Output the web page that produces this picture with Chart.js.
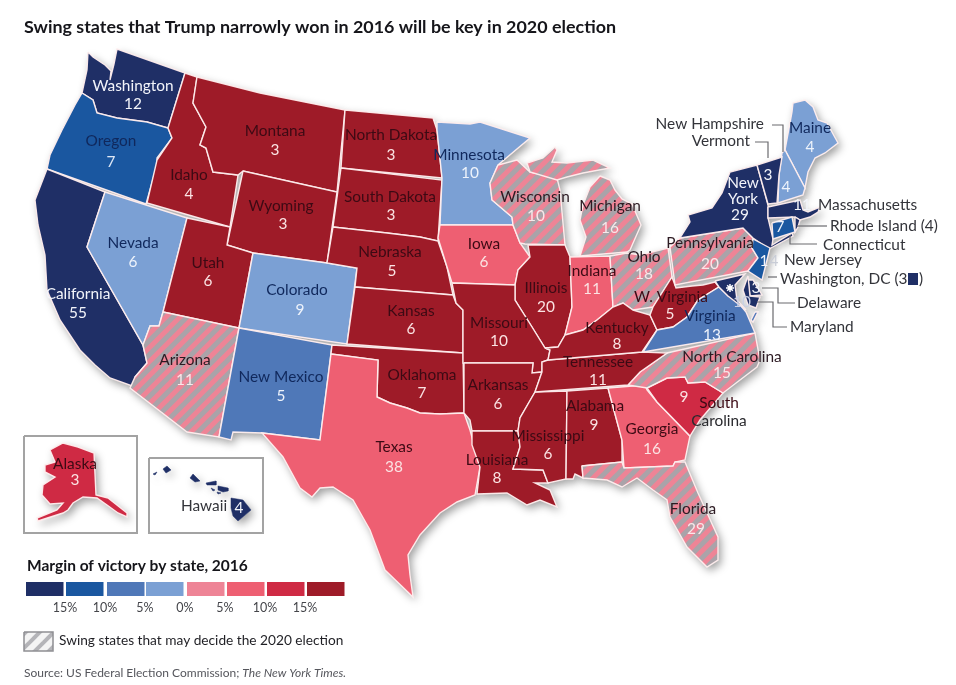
<!DOCTYPE html>
<html>
<head>
<meta charset="utf-8">
<style>
  html, body { margin: 0; padding: 0; background: #fff; }
  canvas { display: block; }
</style>
<script src="https://cdn.jsdelivr.net/npm/chart.js@4/dist/chart.umd.min.js"></script>
</head>
<body>
<canvas id="map" width="956" height="685"></canvas>
<script>
const titleText = 'Swing states that Trump narrowly won in 2016 will be key in 2020 election';
const legendTitle = 'Margin of victory by state, 2016';
const swingText = 'Swing states that may decide the 2020 election';
const legendTicks = ['15%', '10%', '5%', '0%', '5%', '10%', '15%'];
const binColors = ['#1f2f66', '#1a57a0', '#4f78b8', '#7ba0d4', '#ee8496', '#ee5f72', '#cf2a44', '#9e1b28'];

const stateNames = ['Washington', 'Oregon', 'California', 'Nevada', 'Idaho', 'Montana', 'Wyoming', 'Utah', 'Colorado', 'Arizona', 'New Mexico',
  'North Dakota', 'South Dakota', 'Nebraska', 'Kansas', 'Oklahoma', 'Texas', 'Minnesota', 'Iowa', 'Wisconsin', 'Michigan', 'Illinois', 'Indiana', 'Ohio',
  'Missouri', 'Arkansas', 'Louisiana', 'Mississippi', 'Alabama', 'Georgia', 'Florida', 'South Carolina', 'North Carolina', 'Tennessee', 'Kentucky',
  'W. Virginia', 'Virginia', 'Pennsylvania', 'New York', 'Maine', 'New Hampshire', 'Vermont', 'Massachusetts', 'Rhode Island', 'Connecticut', 'New Jersey', 'Delaware', 'Maryland', 'Alaska', 'Hawaii'];
const electoralVotes = [12, 7, 55, 6, 4, 3, 3, 6, 9, 11, 5,
  3, 3, 5, 6, 7, 38, 10, 6, 10, 16, 20, 11, 18,
  10, 6, 8, 6, 9, 16, 29, 9, 15, 11, 8,
  5, 13, 20, 29, 4, 4, 3, 11, 4, 7, 14, 3, 10, 3, 4];
const marginBins = [0, 1, 0, 3, 7, 7, 7, 7, 3, 4, 2,
  7, 7, 7, 7, 7, 5, 3, 5, 4, 4, 7, 5, 4,
  7, 7, 7, 7, 7, 5, 4, 6, 4, 7, 7,
  7, 2, 4, 0, 3, 3, 0, 0, 0, 1, 1, 0, 0, 6, 0];
const swingStates = ['Arizona', 'Wisconsin', 'Michigan', 'Ohio', 'Florida', 'North Carolina', 'Pennsylvania'];

// state outlines
const washington = [[88,52],[93,57],[105,65],[111,71],[110,80],[114,64],[117,49],[185,73],[168,128],[147,122],[117,118],[97,113],[93,100],[82,93],[87,70]];
const oregon = [[82,93],[93,100],[97,113],[117,118],[147,122],[168,128],[172,138],[157,158],[157,165],[146,204],[47,169],[50,155],[62,130],[75,105]];
const california = [[47,169],[105,192],[87,247],[143,345],[147,363],[135,377],[135,387],[110,378],[95,365],[80,350],[60,320],[47,290],[45,255],[38,225],[35,200]];
const nevada = [[105,192],[187,218],[163,312],[159,326],[150,326],[143,345],[87,247]];
const idaho = [[185,73],[197,77],[193,103],[206,127],[200,145],[206,148],[213,172],[238,175],[230,227],[147,203],[157,160],[172,138],[168,128]];
const montana = [[197,77],[260,93],[320,105],[345,110],[337,192],[243,171],[238,175],[213,172],[206,148],[200,145],[206,127],[193,103]];
const wyoming = [[243,171],[337,192],[327,263],[253,253],[227,245]];
const utah = [[187,218],[230,227],[227,245],[253,253],[239,328],[163,312]];
const colorado = [[253,253],[327,263],[357,268],[347,344],[239,328]];
const arizona = [[163,312],[239,328],[219,437],[187,432],[130,388],[135,377],[147,363],[143,345],[150,326],[159,326]];
const newMexico = [[239,328],[332,345],[320,440],[262,433],[233,432],[231,440],[219,437]];
const northDakota = [[345,110],[433,118],[437,130],[442,178],[341,168]];
const southDakota = [[341,168],[442,180],[439,225],[438,241],[420,237],[387,233],[333,227]];
const nebraska = [[333,227],[387,233],[420,237],[438,241],[447,267],[453,295],[355,287],[357,268],[327,263]];
const kansas = [[355,287],[453,295],[456,303],[463,310],[463,353],[347,344]];
const oklahoma = [[332,345],[463,353],[464,413],[440,414],[420,413],[407,408],[390,403],[377,397],[378,360],[331,354]];
const texas = [[331,354],[378,360],[377,397],[390,403],[407,408],[420,413],[440,414],[464,413],[470,430],[480,467],[475,495],[457,502],[440,513],[420,535],[408,555],[410,575],[413,597],[385,570],[370,530],[353,500],[333,487],[320,488],[312,497],[300,488],[283,457],[262,433],[320,440]];
const minnesota = [[437,122],[470,124],[480,122],[505,130],[530,138],[498,165],[490,183],[492,200],[512,217],[513,225],[440,225],[442,178],[437,130]];
const iowa = [[440,225],[513,225],[520,243],[530,257],[518,270],[515,285],[452,283],[438,238]];
const wisconsin = [[498,165],[517,160],[530,172],[557,178],[560,190],[565,245],[525,244],[520,243],[513,225],[512,217],[492,200],[490,183]];
const michiganUpper = [[527,163],[543,158],[555,147],[557,150],[552,162],[567,163],[593,160],[610,168],[583,173],[567,177],[557,180],[530,172]];
const michiganLower = [[600,176],[610,180],[615,190],[622,199],[632,204],[641,225],[630,250],[627,252],[580,256],[586,237],[580,220],[583,205],[590,187]];
const illinois = [[528,245],[565,245],[570,257],[572,307],[565,335],[558,347],[545,348],[532,327],[515,300],[515,285],[518,270],[530,257]];
const indiana = [[570,257],[610,256],[613,307],[597,320],[583,330],[565,335],[572,307]];
const ohio = [[610,256],[627,253],[640,255],[668,248],[672,277],[653,307],[633,310],[623,303],[613,307]];
const missouri = [[452,283],[515,285],[515,300],[532,327],[545,348],[550,350],[548,360],[542,362],[542,372],[532,373],[533,363],[463,363],[463,310],[456,303]];
const arkansas = [[464,363],[533,363],[532,373],[542,372],[535,392],[520,418],[518,431],[472,431],[470,420],[464,413]];
const louisiana = [[472,431],[518,431],[520,447],[513,469],[543,470],[548,483],[535,483],[550,490],[557,507],[540,500],[527,505],[507,493],[477,494],[480,467],[472,445]];
const mississippi = [[535,392],[567,391],[566,479],[548,483],[543,470],[513,469],[520,447],[518,431],[520,418]];
const alabama = [[567,391],[608,388],[622,440],[622,462],[582,466],[583,478],[575,474],[573,479],[566,479]];
const georgia = [[608,388],[645,385],[647,390],[657,402],[690,436],[685,460],[675,462],[673,466],[624,468],[622,440]];
const southCarolina = [[647,388],[667,378],[685,377],[688,383],[705,382],[723,393],[700,420],[690,436],[657,402]];
const florida = [[582,466],[622,462],[624,468],[673,466],[675,462],[685,462],[698,493],[718,537],[718,560],[707,567],[687,547],[670,517],[667,500],[653,490],[637,478],[622,487],[607,480],[583,478]];
const northCarolina = [[667,353],[755,333],[760,360],[757,367],[723,393],[705,382],[688,383],[685,377],[667,378],[647,388],[628,385],[640,372]];
const tennessee = [[548,360],[642,352],[667,353],[640,372],[628,385],[535,392],[542,372],[542,362]];
const kentucky = [[545,348],[558,347],[565,335],[583,330],[597,320],[613,307],[623,303],[633,310],[650,315],[657,330],[642,352],[548,360],[550,350]];
const westVirginia = [[653,307],[672,277],[676,288],[692,286],[703,285],[715,282],[719,287],[698,300],[687,317],[673,327],[657,330],[650,315]];
const virginia = [[643,352],[657,330],[673,327],[687,317],[698,300],[719,287],[728,296],[737,301],[746,312],[755,333]];
const pennsylvania = [[670,247],[680,238],[743,228],[753,238],[752,248],[758,258],[748,271],[675,285]];
const newYork = [[680,238],[690,222],[688,215],[712,208],[722,193],[730,172],[757,165],[768,205],[768,218],[773,239],[772,245],[792,233],[793,236],[769,249],[753,238],[743,228]];
const newJersey = [[753,239],[770,248],[765,268],[762,280],[748,271],[758,258],[752,248]];
const vermont = [[757,165],[782,157],[779,175],[777,203],[768,204]];
const newHampshire = [[782,153],[785,150],[805,188],[803,195],[778,203],[779,175]];
const maine = [[785,150],[792,112],[793,103],[805,100],[813,107],[818,120],[827,123],[838,143],[825,153],[815,158],[808,172],[805,188]];
const massachusetts = [[768,207],[800,200],[803,210],[808,212],[820,207],[818,212],[810,217],[800,220],[795,217],[768,218]];
const connecticut = [[772,223],[792,217],[795,232],[773,239]];
const rhodeIsland = [[795,217],[800,220],[798,227],[795,232]];
const delaware = [[748,280],[753,280],[762,295],[750,296]];
const marylandWest = [[715,281],[745,274],[735,285],[737,300],[746,310],[728,296],[719,287]];
const marylandEast = [[748,276],[750,296],[760,297],[756,308],[748,305],[743,290]];
const virginiaShore = [[755,312],[758,312],[753,322],[751,320]];
const alaska = [[50,450],[63,443],[78,447],[94,453],[96,495],[108,498],[127,513],[127,517],[118,513],[107,505],[97,498],[83,497],[73,503],[68,510],[63,513],[38,521],[37,518],[57,510],[63,503],[50,504],[42,495],[43,485],[55,477],[45,472],[45,465],[55,462]];
const hawaiiBig = [[231,498],[243,500],[251,510],[238,521],[233,516],[231,508]];
const maui = [[218,486],[228,488],[228,491],[223,492],[218,490]];
const molokai = [[206,483],[216,481],[216,485],[207,485]];
const lanai = [[211,488],[215,490],[213,491]];
const kahoolawe = [[217,492],[221,493],[218,494]];
const oahu = [[190,478],[193,474],[200,481],[195,482]];
const kauai = [[163,469],[167,466],[171,470],[166,473]];
const niihau = [[153,474],[157,472],[155,475]];

const stateOutlines = {
  'Washington': [washington], 'Oregon': [oregon], 'California': [california], 'Nevada': [nevada], 'Idaho': [idaho], 'Montana': [montana],
  'Wyoming': [wyoming], 'Utah': [utah], 'Colorado': [colorado], 'Arizona': [arizona], 'New Mexico': [newMexico], 'North Dakota': [northDakota],
  'South Dakota': [southDakota], 'Nebraska': [nebraska], 'Kansas': [kansas], 'Oklahoma': [oklahoma], 'Texas': [texas], 'Minnesota': [minnesota],
  'Iowa': [iowa], 'Wisconsin': [wisconsin], 'Michigan': [michiganUpper, michiganLower], 'Illinois': [illinois], 'Indiana': [indiana], 'Ohio': [ohio],
  'Missouri': [missouri], 'Arkansas': [arkansas], 'Louisiana': [louisiana], 'Mississippi': [mississippi], 'Alabama': [alabama], 'Georgia': [georgia],
  'Florida': [florida], 'South Carolina': [southCarolina], 'North Carolina': [northCarolina], 'Tennessee': [tennessee], 'Kentucky': [kentucky],
  'W. Virginia': [westVirginia], 'Virginia': [virginia, virginiaShore], 'Pennsylvania': [pennsylvania], 'New York': [newYork], 'Maine': [maine],
  'New Hampshire': [newHampshire], 'Vermont': [vermont], 'Massachusetts': [massachusetts], 'Rhode Island': [rhodeIsland], 'Connecticut': [connecticut],
  'New Jersey': [newJersey], 'Maryland': [marylandWest, marylandEast], 'Delaware': [delaware], 'Alaska': [alaska],
  'Hawaii': [hawaiiBig, maui, molokai, lanai, kahoolawe, oahu, kauai, niihau]
};

// name x,y then number x,y, name colour, number colour
const DARK = '#3c0a14', PALE = '#fbe3e3', NAVY = '#10285c';
const labelSpots = {
  'Washington': [133,86,133,104,'#f2f4fa','#f2f4fa'], 'Oregon': [111,141,111,162,NAVY,'#dfe8f6'], 'California': [78,294,78,313,'#f2f4fa','#f2f4fa'],
  'Nevada': [133,243,133,262,NAVY,'#eef3fb'], 'Idaho': [189,175,189,194,DARK,PALE], 'Montana': [275,131,275,150,DARK,PALE],
  'Wyoming': [281,206,283,224,DARK,PALE], 'Utah': [208,263,208,281,DARK,PALE], 'Colorado': [297,290,300,310,NAVY,'#eef3fb'],
  'Arizona': [185,360,185,380,'#2c1a22','#f8e8ea'], 'New Mexico': [281,377,281,396,NAVY,'#eef3fb'], 'North Dakota': [391,135,391,155,DARK,PALE],
  'South Dakota': [390,197,391,215,DARK,PALE], 'Nebraska': [390,252,392,271,DARK,PALE], 'Kansas': [411,311,411,329,DARK,PALE],
  'Oklahoma': [422,375,422,393,DARK,PALE], 'Texas': [394,447,394,467,DARK,PALE], 'Minnesota': [469,155,470,173,NAVY,'#eef3fb'],
  'Iowa': [484,244,484,262,DARK,PALE], 'Wisconsin': [535,197,536,216,'#2c1a22','#f8e8ea'], 'Michigan': [610,206,610,228,'#2c1a22','#f8e8ea'],
  'Illinois': [546,288,546,307,DARK,PALE], 'Indiana': [592,271,592,289,DARK,PALE], 'Ohio': [644,257,644,274,'#2c1a22','#f8e8ea'],
  'Missouri': [499,323,499,341,DARK,PALE], 'Arkansas': [498,385,498,404,DARK,PALE], 'Louisiana': [497,460,497,478,DARK,PALE],
  'Mississippi': [548,436,548,454,DARK,PALE], 'Alabama': [595,406,594,425,DARK,PALE], 'Georgia': [652,429,652,449,DARK,PALE],
  'Florida': [693,509,696,529,'#2c1a22','#f8e8ea'], 'North Carolina': [732,357,722,373,'#2c1a22','#f8e8ea'], 'Tennessee': [598,362,598,380,DARK,PALE],
  'Kentucky': [617,328,617,344,DARK,PALE], 'W. Virginia': [671,297,670,314,DARK,PALE], 'Virginia': [710,316,712,335,NAVY,'#eef3fb'],
  'Pennsylvania': [710,243,710,264,'#2c1a22','#f8e8ea'], 'Maine': [810,128,810,147,NAVY,'#eef3fb'], 'Alaska': [75,464,75,480,DARK,PALE],
  'South Carolina': [null,null,684,397,null,PALE], 'New York': [null,null,740,215,null,'#f2f4fa'], 'New Hampshire': [null,null,786,187,null,'#eef3fb'],
  'Vermont': [null,null,768,175,null,'#f2f4fa'], 'Massachusetts': [null,null,802,205,null,'#f2f4fa'], 'Connecticut': [null,null,780,227,null,'#eef3fb'],
  'Delaware': [null,null,756,288,null,'#f2f4fa'], 'Maryland': [null,null,742,302,null,'#c9d0e4'], 'Hawaii': [null,null,239,508,null,'#f2f4fa'],
  'Rhode Island': [null,null,null,null,null,null], 'New Jersey': [null,null,null,null,null,null]
};
const extraLabels = [['South',719,403,DARK], ['Carolina',719,421,'#2a2a2e'], ['New',743,183,'#f2f4fa'], ['York',743,199,'#f2f4fa'], ['1',764,261,'#f2f4fa'], ['4',774,261,'#c8ccd6']];
const calloutLabels = [['New Hampshire',764,124,'right'], ['Vermont',750,141,'right'], ['Massachusetts',818,205,'left'], ['Rhode Island (4)',830,226,'left'],
  ['Connecticut',823,245,'left'], ['New Jersey',784,260,'left'], ['Delaware',797,303,'left'], ['Maryland',790,327,'left'], ['Hawaii',204,506,'center']];
const leaderLines = [[[772,125],[783,125],[783,152]], [[755,142],[768,142],[768,158]], [[797,226],[827,226]], [[790,235],[790,244],[817,244]],
  [[768,277],[777,277]], [[762,288],[778,288],[778,303],[795,303]], [[757,302],[773,302],[773,327],[787,327]]];
const insetBoxes = [[[24,436],[137,436],[137,533],[24,533]], [[149,458],[263,458],[263,533],[149,533]]];
const legendLefts = [26, 66, 107, 146, 187, 227, 267, 307];

function hatch(base, stripe, lineWidth) {
  const tile = document.createElement('canvas');
  tile.width = 14;
  tile.height = 14;
  const t = tile.getContext('2d');
  t.fillStyle = base;
  t.fillRect(0, 0, 14, 14);
  t.strokeStyle = stripe;
  t.lineWidth = lineWidth;
  [[-7, 7, 7, -7], [0, 14, 14, 0], [7, 21, 21, 7]].forEach(s => {
    t.beginPath();
    t.moveTo(s[0], s[1]);
    t.lineTo(s[2], s[3]);
    t.stroke();
  });
  return t.createPattern(tile, 'repeat');
}

const ctx = document.getElementById('map').getContext('2d');
const swingFill = hatch('#ee8496', '#aaa3a9', 5);
const legendHatch = hatch('#f4f4f4', '#b4b4b8', 4);

function toPoints(outline, close) {
  const pts = outline.map(p => ({x: p[0], y: p[1]}));
  if (close) pts.push(pts[0]);
  return pts;
}

function polygon(outline, fillColor, borderColor, borderWidth) {
  return {
    data: toPoints(outline, true),
    showLine: true,
    fill: 'shape',
    backgroundColor: fillColor,
    borderColor: borderColor,
    borderWidth: borderWidth,
    pointRadius: 0,
    tension: 0,
    clip: false
  };
}

function path(outline) {
  return {
    data: toPoints(outline, false),
    showLine: true,
    fill: false,
    borderColor: '#6a6a6e',
    borderWidth: 1.2,
    pointRadius: 0,
    tension: 0,
    clip: false
  };
}

const datasets = [];
insetBoxes.forEach(b => datasets.push(polygon(b, 'rgba(255,255,255,0)', '#a3a3a3', 2)));
stateNames.forEach((name, i) => {
  const fillColor = swingStates.includes(name) ? swingFill : binColors[marginBins[i]];
  const edge = name === 'Hawaii' ? binColors[0] : 'rgba(255,238,238,0.95)';
  stateOutlines[name].forEach(o => datasets.push(polygon(o, fillColor, edge, name === 'Hawaii' ? 0.5 : 1.4)));
});
leaderLines.forEach(l => datasets.push(path(l)));
binColors.forEach((c, i) => {
  const l = legendLefts[i];
  datasets.push(polygon([[l,582],[l + 37.5,582],[l + 37.5,596],[l,596]], c, c, 0));
});
datasets.push(polygon([[24,632],[53,632],[53,651],[24,651]], legendHatch, '#8f8f93', 1.5));
datasets.push(polygon([[908,273],[918,273],[918,285],[908,285]], binColors[0], binColors[0], 0));
// DC marker
datasets.push({
  data: [{x: 730, y: 288}],
  showLine: false,
  pointStyle: 'star',
  pointRadius: 4,
  pointBorderWidth: 1.5,
  pointBorderColor: '#ffffff',
  pointBackgroundColor: '#ffffff',
  clip: false
});
// chart.js paints the first dataset last, so flip to keep this stacking
datasets.reverse();

const mapDressing = {
  id: 'mapDressing',
  beforeDatasetsDraw(chart) {
    const {x, y} = chart.scales;
    const c = chart.ctx;
    c.save();
    c.shadowColor = 'rgba(0,0,0,0.38)';
    c.shadowBlur = 9;
    c.shadowOffsetX = 3;
    c.shadowOffsetY = 4;
    c.fillStyle = '#ffffff';
    Object.values(stateOutlines).forEach(list => list.forEach(o => {
      c.beginPath();
      o.forEach((p, i) => {
        if (i === 0) c.moveTo(x.getPixelForValue(p[0]), y.getPixelForValue(p[1]));
        else c.lineTo(x.getPixelForValue(p[0]), y.getPixelForValue(p[1]));
      });
      c.closePath();
      c.fill();
    }));
    c.restore();
  },
  afterDatasetsDraw(chart) {
    const {x, y} = chart.scales;
    const c = chart.ctx;
    const put = (text, px, py, color, font, align) => {
      c.font = font;
      c.fillStyle = color;
      c.textAlign = align || 'center';
      c.textBaseline = 'middle';
      c.fillText(text, x.getPixelForValue(px), y.getPixelForValue(py));
    };
    const labelFont = '15.4px Lato';
    c.save();
    stateNames.forEach((name, i) => {
      const s = labelSpots[name];
      if (s[0] !== null) put(name, s[0], s[1], s[4], labelFont);
      if (s[2] !== null) put(String(electoralVotes[i]), s[2], s[3], s[5], labelFont);
    });
    extraLabels.forEach(l => put(l[0], l[1], l[2], l[3], labelFont));
    calloutLabels.forEach(l => put(l[0], l[1], l[2], '#33343a', labelFont, l[3]));
    put('Washington, DC (3', 780, 279, '#33343a', labelFont, 'left');
    put(')', 919, 279, '#33343a', labelFont, 'left');
    put(titleText, 24, 27, '#15151a', 'bold 17.9px Lato', 'left');
    put(legendTitle, 27, 566, '#15151a', 'bold 15.5px Lato', 'left');
    legendTicks.forEach((t, i) => put(t, 65 + i * 40, 608, '#44454a', '12.5px Lato'));
    put(swingText, 59, 641, '#1f1f24', '13.7px Lato', 'left');
    put('Source: US Federal Election Commission; ', 24, 673, '#55565c', '12px Lato', 'left');
    const w = c.measureText('Source: US Federal Election Commission; ').width;
    put('The New York Times.', 24 + w, 673, '#55565c', 'italic 12px Lato', 'left');
    c.restore();
  }
};

new Chart(ctx, {
  type: 'scatter',
  data: {datasets: datasets},
  plugins: [mapDressing],
  options: {
    responsive: false,
    animation: false,
    layout: {padding: 0, autoPadding: false},
    plugins: {legend: {display: false}, tooltip: {enabled: false}},
    scales: {
      x: {type: 'linear', min: 0, max: 956, display: false},
      y: {type: 'linear', min: 0, max: 685, reverse: true, display: false}
    }
  }
});
</script>
</body>
</html>
